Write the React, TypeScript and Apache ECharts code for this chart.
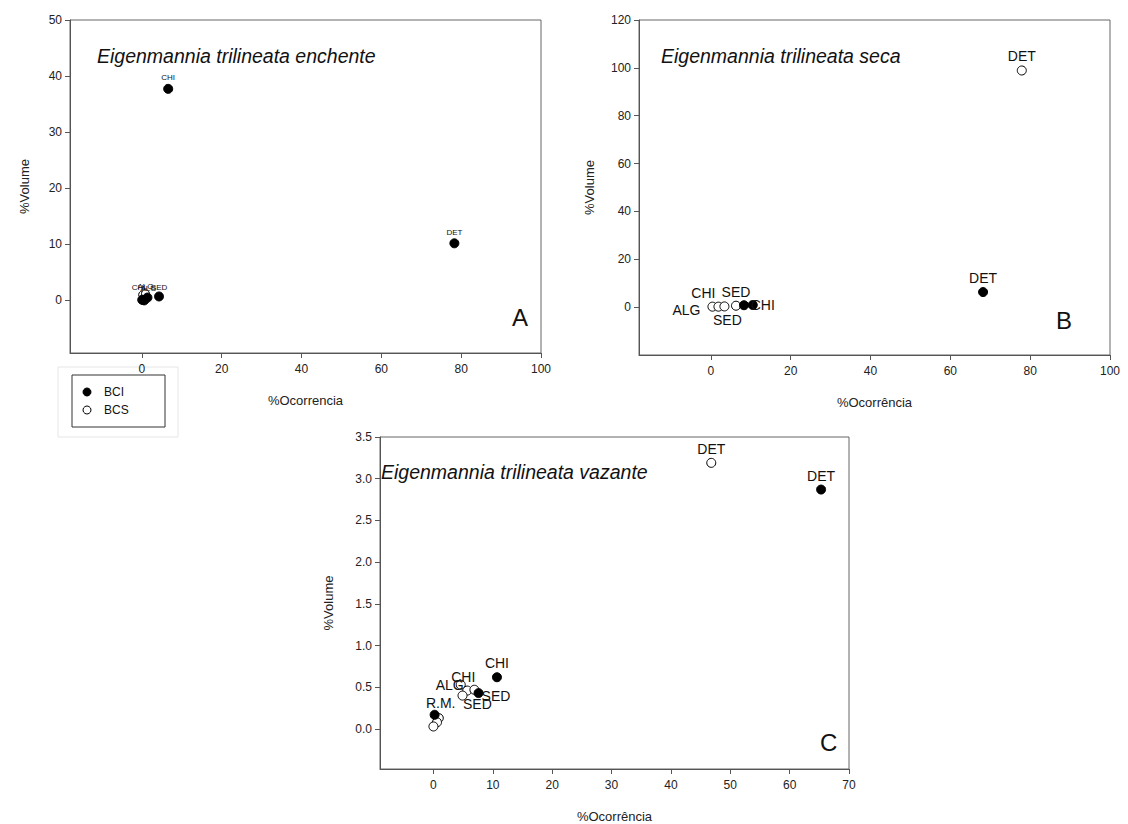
import React, { useEffect, useRef } from "react";
import * as echarts from "echarts";

const FONT = "'Liberation Sans', Arial, sans-serif";

// ---------- Panel A: enchente ----------
const aBciX = [6.6, 78.3, 4.3, 0.1, 0.6, 1.4];
const aBciY = [37.7, 10.1, 0.6, 0.0, -0.1, 0.4];
const aBciName = ["CHI", "DET", "SED", "", "", "ALG"];
const aBciPos = ["top", "top", "top", "top", "top", "top"];
const aBciOff = [[0, 0], [0, 0], [0, 2], [0, 0], [0, 0], [1, 2]];
const aBcsX = [0.2, 0.9];
const aBcsY = [0.9, 1.1];
const aBcsName = ["CHI", "ALG"];
const aBcsPos = ["top", "top"];
const aBcsOff = [[-4, 3], [0, 3]];

// ---------- Panel B: seca ----------
const bBciX = [68.2, 10.5, 8.3];
const bBciY = [6.3, 0.9, 0.8];
const bBciName = ["DET", "CHI", ""];
const bBciPos = ["top", "right", "top"];
const bBciOff = [[0, 0], [-9, 0], [0, 0]];
const bBcsX = [77.9, 0.4, 1.9, 3.4, 6.3];
const bBcsY = [98.9, 0.2, 0.2, 0.3, 0.6];
const bBcsName = ["DET", "ALG", "CHI", "SED", "SED"];
const bBcsPos = ["top", "left", "top", "bottom", "top"];
const bBcsOff = [[0, 0], [-5, 3], [-15, 0], [3, 0], [0, 0]];

// ---------- Panel C: vazante ----------
const cBciX = [65.3, 10.7, 7.6, 0.2];
const cBciY = [2.87, 0.62, 0.43, 0.17];
const cBciName = ["DET", "CHI", "SED", ""];
const cBciPos = ["top", "top", "right", "top"];
const cBciOff = [[0, 0], [0, 0], [-4, 3], [0, 0]];
const cBcsX = [46.8, 4.6, 5.7, 6.9, 4.9, 0.9, 0.6, 0.0];
const cBcsY = [3.19, 0.53, 0.46, 0.47, 0.4, 0.13, 0.08, 0.03];
const cBcsName = ["DET", "ALG", "CHI", "SED", "R.M.", "", "", ""];
const cBcsPos = ["top", "left", "top", "bottom", "left", "top", "top", "top"];
const cBcsOff = [[0, 0], [10, 0], [-4, 0], [3, 0], [0, 7], [0, 0], [0, 0], [0, 0]];

// ---------- Axis ticks ----------
const abXTicks = [0, 20, 40, 60, 80, 100];
const aYTicks = [0, 10, 20, 30, 40, 50];
const bYTicks = [0, 20, 40, 60, 80, 100, 120];
const cXTicks = [0, 10, 20, 30, 40, 50, 60, 70];
const cYTicks = [0, 0.5, 1, 1.5, 2, 2.5, 3, 3.5];

const legendNames = ["BCI", "BCS"];
const titles = [
  "Eigenmannia trilineata enchente",
  "Eigenmannia trilineata seca",
  "Eigenmannia trilineata vazante",
];

function build(xs: number[], ys: number[], names: string[], pos: string[], offs: number[][], fontSize: number) {
  return xs.map((x, i) => ({
    value: [x, ys[i]],
    name: names[i],
    label: {
      show: names[i] !== "",
      position: pos[i],
      offset: offs[i],
      color: "#111",
      fontSize,
      fontFamily: FONT,
    },
  }));
}

function xAxis(grid: number, min: number, max: number, ticks: number[], name: string, dec = 0) {
  return {
    gridIndex: grid,
    type: "value",
    min,
    max,
    name,
    nameLocation: "middle",
    nameGap: 41,
    nameTextStyle: { fontFamily: FONT, fontSize: 13, color: "#222" },
    axisLine: { show: true, onZero: false, lineStyle: { color: "#555", width: 1 } },
    axisTick: { show: true, length: 5, customValues: ticks, lineStyle: { color: "#555" } },
    axisLabel: {
      customValues: ticks,
      fontFamily: FONT,
      fontSize: 12,
      color: "#222",
      margin: 10,
      formatter: (v: number) => v.toFixed(dec),
    },
    splitLine: { show: false },
  };
}

function yAxis(grid: number, min: number, max: number, ticks: number[], gap: number, dec = 0) {
  return {
    gridIndex: grid,
    type: "value",
    min,
    max,
    name: "%Volume",
    nameLocation: "middle",
    nameGap: gap,
    nameTextStyle: { fontFamily: FONT, fontSize: 13, color: "#222" },
    axisLine: { show: true, onZero: false, lineStyle: { color: "#555", width: 1 } },
    axisTick: { show: true, length: 5, customValues: ticks, lineStyle: { color: "#555" } },
    axisLabel: {
      customValues: ticks,
      fontFamily: FONT,
      fontSize: 12,
      color: "#222",
      margin: 8,
      formatter: (v: number) => v.toFixed(dec),
    },
    splitLine: { show: false },
  };
}

function scatter(idx: number, data: any[], filled: boolean, size: number) {
  return {
    type: "scatter",
    name: filled ? legendNames[0] : legendNames[1],
    xAxisIndex: idx,
    yAxisIndex: idx,
    symbol: "circle",
    symbolSize: size,
    z: filled ? 3 : 2,
    itemStyle: filled
      ? { color: "#000", borderColor: "#000", borderWidth: 1, opacity: 1 }
      : { color: "#fff", borderColor: "#000", borderWidth: 1, opacity: 1 },
    label: {
      formatter: "{b}",
      color: "#111",
      distance: 2,
    },
    emphasis: { disabled: true },
    data,
  };
}

export default function App() {
  const ref = useRef<HTMLDivElement>(null);
  useEffect(() => {
    if (!ref.current) return;
    const chart = echarts.init(ref.current, undefined, { renderer: "svg" });
    const gridStyle = { show: true, borderColor: "#666", borderWidth: 1, backgroundColor: "transparent" };
    chart.setOption({
      animation: false,
      backgroundColor: "#fff",
      grid: [
        { left: 70, top: 20, width: 471, height: 333, ...gridStyle },
        { left: 639, top: 20, width: 471, height: 335, ...gridStyle },
        { left: 380, top: 437, width: 469, height: 334, ...gridStyle },
      ],
      xAxis: [
        xAxis(0, -18, 100, abXTicks, "%Ocorrencia"),
        xAxis(1, -18, 100, abXTicks, "%Ocorrência"),
        xAxis(2, -9, 70, cXTicks, "%Ocorrência"),
      ],
      yAxis: [
        yAxis(0, -9.5, 50, aYTicks, 39),
        yAxis(1, -20, 120, bYTicks, 43),
        yAxis(2, -0.48, 3.5, cYTicks, 45, 1),
      ],
      series: [
        scatter(0, build(aBcsX, aBcsY, aBcsName, aBcsPos, aBcsOff, 8), false, 8),
        scatter(0, build(aBciX, aBciY, aBciName, aBciPos, aBciOff, 8), true, 9),
        scatter(1, build(bBcsX, bBcsY, bBcsName, bBcsPos, bBcsOff, 14), false, 9),
        scatter(1, build(bBciX, bBciY, bBciName, bBciPos, bBciOff, 14), true, 9),
        scatter(2, build(cBcsX, cBcsY, cBcsName, cBcsPos, cBcsOff, 14), false, 9),
        scatter(2, build(cBciX, cBciY, cBciName, cBciPos, cBciOff, 14), true, 9),
      ],
      graphic: [
        { type: "text", left: 97, top: 46, style: { text: titles[0], font: `italic 19.5px ${FONT}`, fill: "#111" } },
        { type: "text", left: 661, top: 46, style: { text: titles[1], font: `italic 19.5px ${FONT}`, fill: "#111" } },
        { type: "text", left: 381, top: 462, style: { text: titles[2], font: `italic 19.5px ${FONT}`, fill: "#111" } },
        { type: "rect", shape: { x: 500, y: 300, width: 40, height: 42 }, style: { fill: "#fff", stroke: null }, z: 10 },
        { type: "text", left: 512, top: 305, z: 11, style: { text: "A", font: `24px ${FONT}`, fill: "#111" } },
        { type: "rect", shape: { x: 1045, y: 302, width: 64, height: 45 }, style: { fill: "#fff", stroke: null }, z: 10 },
        { type: "text", left: 1056, top: 308, z: 11, style: { text: "B", font: `24px ${FONT}`, fill: "#111" } },
        { type: "rect", shape: { x: 810, y: 722, width: 38, height: 40 }, style: { fill: "#fff", stroke: null }, z: 10 },
        { type: "text", left: 820, top: 730, z: 11, style: { text: "C", font: `24px ${FONT}`, fill: "#111" } },
        // legend
        { type: "rect", shape: { x: 58, y: 367, width: 120, height: 70 }, style: { fill: "#fff", stroke: "#e6e6e6", lineWidth: 1 } },
        { type: "rect", shape: { x: 72, y: 375, width: 93, height: 52 }, style: { fill: "#fff", stroke: "#333", lineWidth: 1 } },
        { type: "circle", shape: { cx: 87, cy: 392, r: 4 }, style: { fill: "#000", stroke: "#000" } },
        { type: "text", left: 104, top: 386, style: { text: legendNames[0], font: `12px ${FONT}`, fill: "#111" } },
        { type: "circle", shape: { cx: 87, cy: 410, r: 4 }, style: { fill: "#fff", stroke: "#000", lineWidth: 1 } },
        { type: "text", left: 104, top: 404, style: { text: legendNames[1], font: `12px ${FONT}`, fill: "#111" } },
      ],
    });
    return () => chart.dispose();
  }, []);
  return (
    <div
      ref={ref}
      style={{ position: "fixed", left: 0, top: 0, width: 1128, height: 824, background: "#fff" }}
    />
  );
}
